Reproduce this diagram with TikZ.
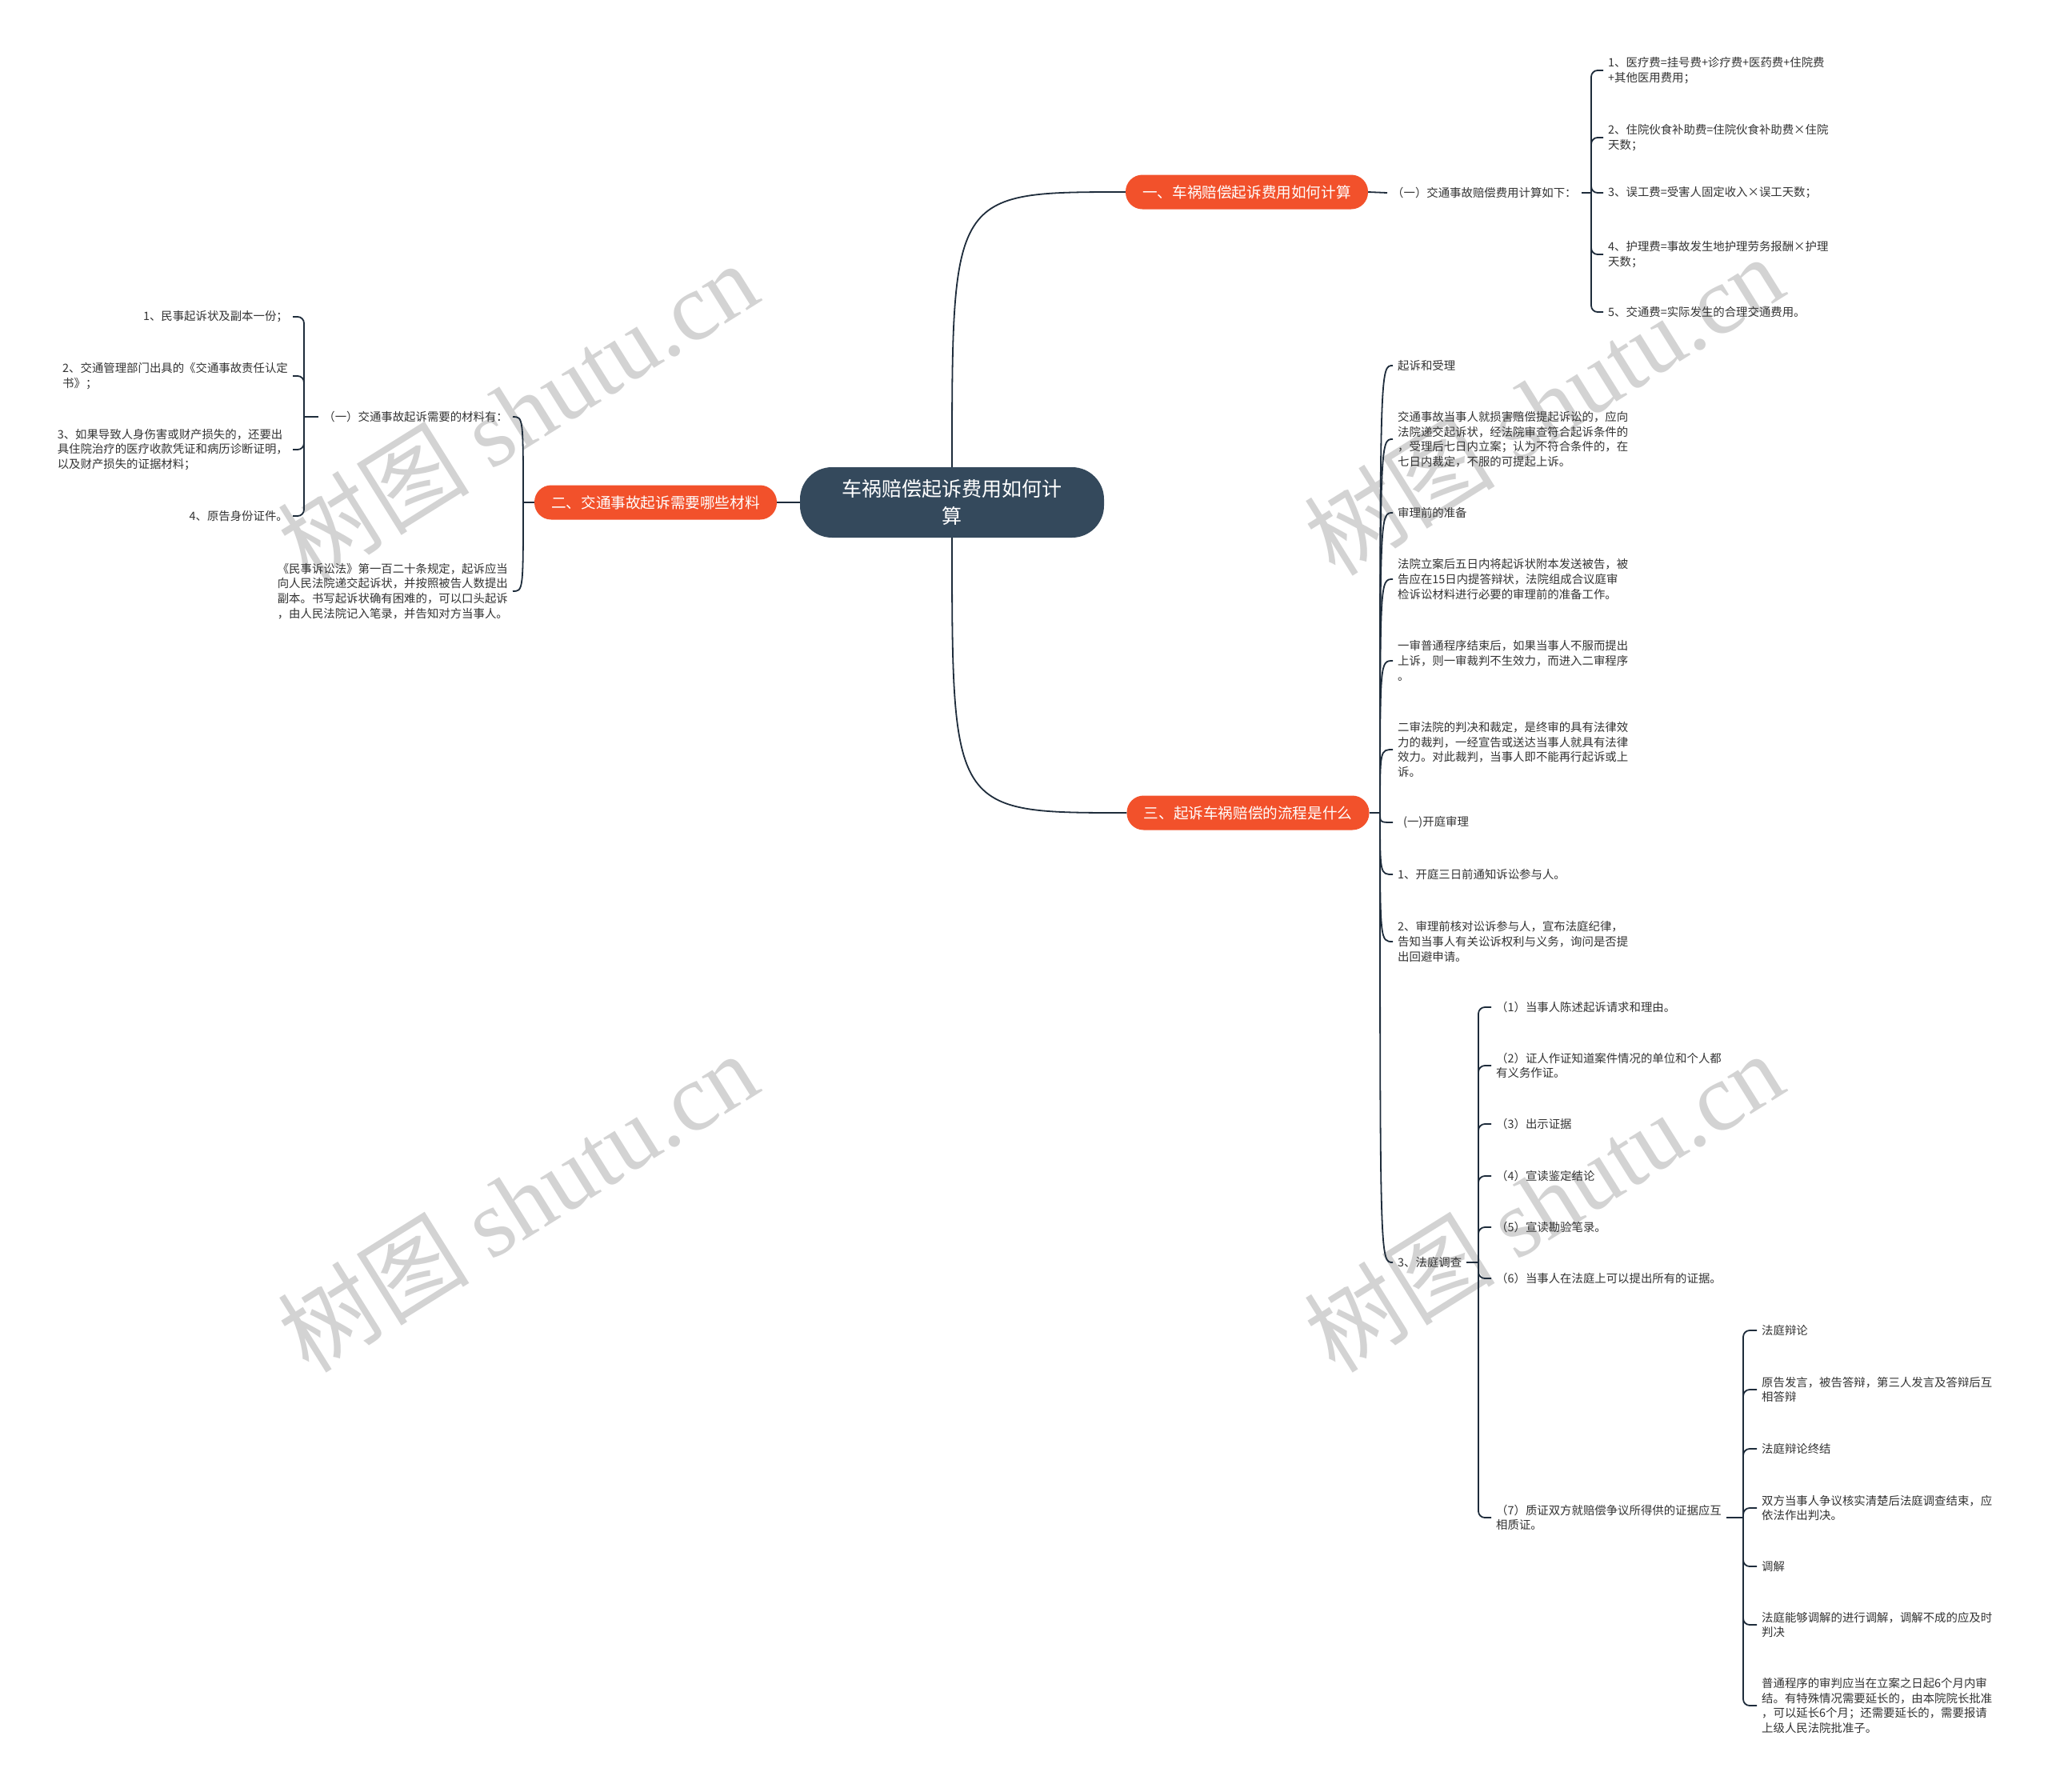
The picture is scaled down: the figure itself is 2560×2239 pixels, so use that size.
\documentclass[tikz,border=0pt]{standalone}
\usepackage{fontspec}
\setmainfont{Noto Sans CJK SC}
\newfontfamily\wmserif{Liberation Serif}
\usetikzlibrary{calc}
\definecolor{orangeb}{HTML}{F2512B}
\definecolor{centerb}{HTML}{34495C}
\definecolor{linec}{HTML}{1E2C3B}
\definecolor{txtc}{HTML}{333333}
\definecolor{wmc}{HTML}{D3D3D3}
\begin{document}
\begin{tikzpicture}[x=1pt,y=-1pt,
  conn/.style={draw=linec,line width=1.8pt},
  brk/.style={conn,rounded corners=8pt},
  leaf/.style={inner xsep=6pt,inner ysep=0pt,align=left,text=txtc,font=\fontsize{14.4}{18.7}\selectfont},
  leafw/.style={leaf,anchor=west},
  leafe/.style={leaf,anchor=east},
  branch/.style={fill=orangeb,text=white,rounded corners=21pt,minimum width=303pt,minimum height=43pt,inner sep=0pt,font=\fontsize{18.6}{22}\selectfont},
  wm/.style={text=wmc,rotate=32,font=\fontsize{120}{130}\selectfont,inner sep=0pt}
]
\useasboundingbox (0,0) rectangle (2560,2239);
\fill[white] (0,0) rectangle (2560,2239);

% watermarks
\node[wm] (w1) at (647,514) {树图 {\wmserif shutu.cn}};
\node[wm] (w2) at (1929,506) {树图 {\wmserif shutu.cn}};
\node[wm] (w3) at (647,1502) {树图 {\wmserif shutu.cn}};
\node[wm] (w4) at (1929,1502) {树图 {\wmserif shutu.cn}};

% central
\node[fill=centerb,text=white,rounded corners=40pt,minimum width=380pt,minimum height=88pt,inner sep=0pt,align=center,font=\fontsize{25}{34}\selectfont] (c) at (1190,628) {车祸赔偿起诉费用如何计\\算};

% branches
\node[branch] (b1) at (1558.5,240) {一、车祸赔偿起诉费用如何计算};
\node[branch] (b2) at (819.5,628) {二、交通事故起诉需要哪些材料};
\node[branch] (b3) at (1560,1016) {三、起诉车祸赔偿的流程是什么};

\draw[conn] (c.north) .. controls (c.north |- b1.west) .. (b1.west);
\draw[conn] (c.south) .. controls (c.south |- b3.west) .. (b3.west);
\draw[conn] (c.west) -- (b2.east);

% ---------- branch 1
\node[leafw] (t1) at (1734,241) {（一）交通事故赔偿费用计算如下：};
\draw[conn] (b1.east) -- (t1.west);
\coordinate (j1) at (1989,241);
\draw[conn] (t1.east) -- (j1);
\node[leafw] (i1) at (2004,88) {1、医疗费=挂号费+诊疗费+医药费+住院费\\+其他医用费用；};
\node[leafw] (i2) at (2004,172) {2、住院伙食补助费=住院伙食补助费×住院\\天数；};
\node[leafw] (i3) at (2004,241) {3、误工费=受害人固定收入×误工天数；};
\node[leafw] (i4) at (2004,318) {4、护理费=事故发生地护理劳务报酬×护理\\天数；};
\node[leafw] (i5) at (2004,390) {5、交通费=实际发生的合理交通费用。};
\foreach \n in {i1,i2,i3,i4,i5} \draw[brk] (j1) |- (\n.west);

% ---------- branch 2
\coordinate (j2) at (654,628);
\draw[conn] (b2.west) -- (j2);
\node[leafe] (t2) at (641,521) {（一）交通事故起诉需要的材料有：};
\node[leafe] (p2) at (641,739) {《民事诉讼法》第一百二十条规定，起诉应当\\向人民法院递交起诉状，并按照被告人数提出\\副本。书写起诉状确有困难的，可以口头起诉\\，由人民法院记入笔录，并告知对方当事人。};
\draw[conn] (j2) .. controls (j2 |- t2.east) .. (t2.east);
\draw[conn] (j2) .. controls (j2 |- p2.east) .. (p2.east);
\coordinate (jt2) at (380,521);
\draw[conn] (t2.west) -- (jt2);
\node[leafe] (a1) at (366,396) {1、民事起诉状及副本一份；};
\node[leafe] (a2) at (366,470) {2、交通管理部门出具的《交通事故责任认定\\书》；};
\node[leafe] (a3) at (366,562) {3、如果导致人身伤害或财产损失的，还要出\\具住院治疗的医疗收款凭证和病历诊断证明，\\以及财产损失的证据材料；};
\node[leafe] (a4) at (366,645) {4、原告身份证件。};
\foreach \n in {a1,a2,a3,a4} \draw[brk] (jt2) |- (\n.east);

% ---------- branch 3
\coordinate (j3) at (1725,1016);
\draw[conn] (b3.east) -- (j3);
\node[leafw] (s1) at (1741,457) {起诉和受理};
\node[leafw] (s2) at (1741,549) {交通事故当事人就损害赔偿提起诉讼的，应向\\法院递交起诉状，经法院审查符合起诉条件的\\，受理后七日内立案；认为不符合条件的，在\\七日内裁定，不服的可提起上诉。};
\node[leafw] (s3) at (1741,641) {审理前的准备};
\node[leafw] (s4) at (1741,724) {法院立案后五日内将起诉状附本发送被告，被\\告应在15日内提答辩状，法院组成合议庭审\\检诉讼材料进行必要的审理前的准备工作。};
\node[leafw] (s5) at (1741,826) {一审普通程序结束后，如果当事人不服而提出\\上诉，则一审裁判不生效力，而进入二审程序\\。};
\node[leafw] (s6) at (1741,937) {二审法院的判决和裁定，是终审的具有法律效\\力的裁判，一经宣告或送达当事人就具有法律\\效力。对此裁判，当事人即不能再行起诉或上\\诉。};
\node[leafw] (s7) at (1741,1028) {\hspace*{7pt}(一)开庭审理};
\node[leafw] (s8) at (1741,1093) {1、开庭三日前通知诉讼参与人。};
\node[leafw] (s9) at (1741,1177) {2、审理前核对讼诉参与人，宣布法庭纪律，\\告知当事人有关讼诉权利与义务，询问是否提\\出回避申请。};
\node[leafw] (s10) at (1741,1578) {3、法庭调查};
\foreach \n in {s1,s2,s3,s4,s5,s6,s7,s8,s9,s10} \draw[conn] (j3) .. controls (j3 |- \n.west) .. (\n.west);

% 3、法庭调查 children
\coordinate (jf) at (1848,1578);
\draw[conn] (s10.east) -- (jf);
\node[leafw] (f1) at (1864,1259) {（1）当事人陈述起诉请求和理由。};
\node[leafw] (f2) at (1864,1332) {（2）证人作证知道案件情况的单位和个人都\\有义务作证。};
\node[leafw] (f3) at (1864,1405) {（3）出示证据};
\node[leafw] (f4) at (1864,1470) {（4）宣读鉴定结论};
\node[leafw] (f5) at (1864,1534) {（5）宣读勘验笔录。};
\node[leafw] (f6) at (1864,1598) {（6）当事人在法庭上可以提出所有的证据。};
\node[leafw] (f7) at (1864,1897) {（7）质证双方就赔偿争议所得供的证据应互\\相质证。};
\foreach \n in {f1,f2,f3,f4,f5,f6,f7} \draw[brk] (jf) |- (\n.west);

% (7) children
\coordinate (jg) at (2179,1897);
\draw[conn] (f7.east) -- (jg);
\node[leafw] (g1) at (2196,1663) {法庭辩论};
\node[leafw] (g2) at (2196,1737) {原告发言，被告答辩，第三人发言及答辩后互\\相答辩};
\node[leafw] (g3) at (2196,1811) {法庭辩论终结};
\node[leafw] (g4) at (2196,1885) {双方当事人争议核实清楚后法庭调查结束，应\\依法作出判决。};
\node[leafw] (g5) at (2196,1958) {调解};
\node[leafw] (g6) at (2196,2031) {法庭能够调解的进行调解，调解不成的应及时\\判决};
\node[leafw] (g7) at (2196,2132) {普通程序的审判应当在立案之日起6个月内审\\结。有特殊情况需要延长的，由本院院长批准\\，可以延长6个月；还需要延长的，需要报请\\上级人民法院批准子。};
\foreach \n in {g1,g2,g3,g4,g5,g6,g7} \draw[brk] (jg) |- (\n.west);
\end{tikzpicture}
\end{document}
